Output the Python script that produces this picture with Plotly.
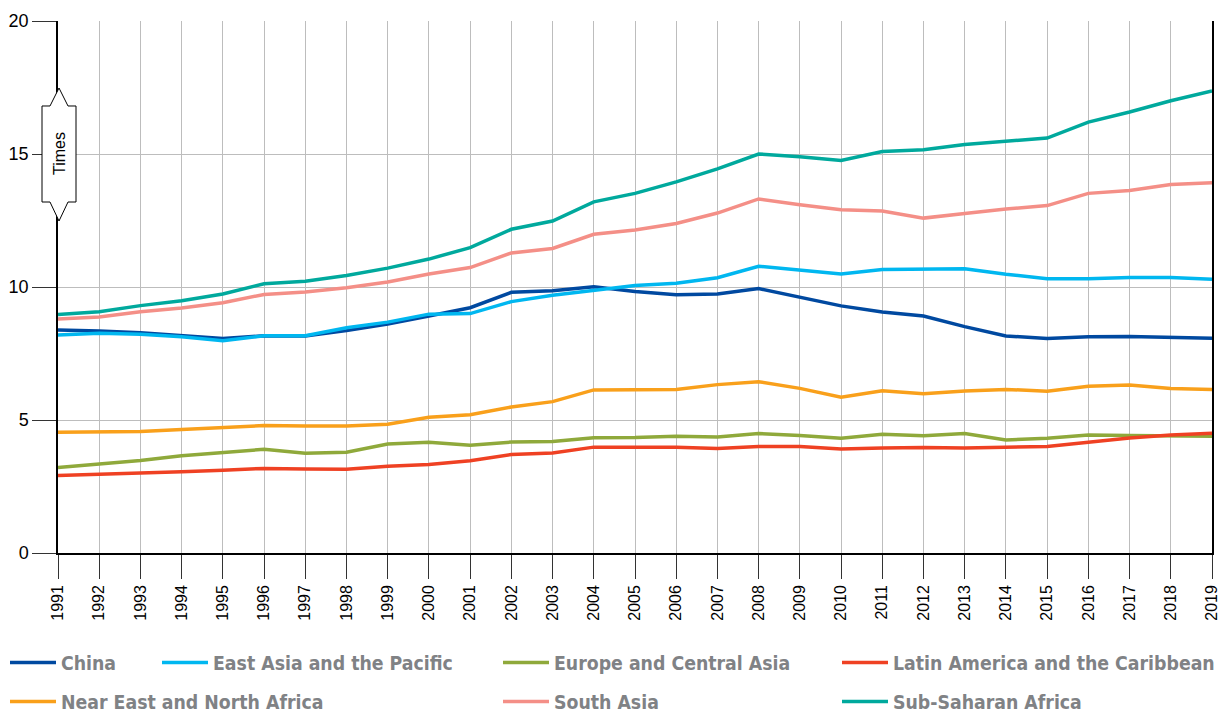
import plotly.graph_objects as go

years = list(range(1991, 2020))
year_labels = [str(y) for y in years]

china = [8.38, 8.35, 8.28, 8.16, 8.06, 8.17, 8.16, 8.36, 8.61, 8.91,
         9.22, 9.80, 9.86, 10.01, 9.83, 9.71, 9.74, 9.94, 9.61, 9.29,
         9.06, 8.91, 8.51, 8.16, 8.06, 8.13, 8.14, 8.12, 8.07]
east_asia = [8.20, 8.26, 8.22, 8.13, 7.98, 8.17, 8.17, 8.47, 8.68, 8.98,
             9.00, 9.45, 9.69, 9.89, 10.06, 10.14, 10.35, 10.78, 10.64, 10.49,
             10.66, 10.66, 10.69, 10.48, 10.31, 10.31, 10.36, 10.36, 10.29]
europe = [3.21, 3.35, 3.48, 3.66, 3.79, 3.90, 3.75, 3.79, 4.10, 4.16,
          4.05, 4.17, 4.19, 4.33, 4.34, 4.39, 4.36, 4.49, 4.42, 4.31,
          4.46, 4.41, 4.49, 4.25, 4.31, 4.44, 4.42, 4.39, 4.39]
latin = [2.91, 2.95, 3.01, 3.05, 3.11, 3.18, 3.16, 3.15, 3.26, 3.33,
         3.47, 3.70, 3.76, 3.98, 3.98, 3.98, 3.93, 4.00, 4.00, 3.91,
         3.95, 3.97, 3.95, 3.96, 4.00, 4.16, 4.32, 4.44, 4.50]
near_east = [4.54, 4.57, 4.57, 4.64, 4.70, 4.79, 4.77, 4.77, 4.84, 5.10,
             5.20, 5.49, 5.69, 6.13, 6.14, 6.15, 6.33, 6.44, 6.19, 5.86,
             6.10, 5.99, 6.09, 6.15, 6.08, 6.27, 6.32, 6.18, 6.15]
south_asia = [8.80, 8.87, 9.07, 9.21, 9.41, 9.72, 9.81, 9.97, 10.19, 10.49,
              10.73, 11.28, 11.45, 11.98, 12.14, 12.39, 12.78, 13.31, 13.09, 12.90,
              12.86, 12.59, 12.76, 12.93, 13.06, 13.52, 13.63, 13.85, 13.92]
ssa = [8.97, 9.07, 9.30, 9.48, 9.74, 10.12, 10.22, 10.43, 10.71, 11.05,
       11.48, 12.17, 12.48, 13.20, 13.52, 13.95, 14.44, 15.00, 14.90, 14.76,
       15.09, 15.16, 15.36, 15.49, 15.60, 16.20, 16.58, 17.00, 17.37]

series_names = ["China", "East Asia and the Pacific", "Europe and Central Asia",
                "Latin America and the Caribbean", "Near East and North Africa",
                "South Asia", "Sub-Saharan Africa"]
series_values = [china, east_asia, europe, latin, near_east, south_asia, ssa]
colors = ["#0049a0", "#00b7f0", "#8fa93b", "#ef4123", "#f9a01b", "#f48f87", "#00a99d"]

W, H = 1221, 713
ML, MR, MT, MB = 58, 9, 21, 160
PW, PH = W - ML - MR, H - MT - MB


def px_x(px):
    return (px - ML) / PW


def px_y(py):
    return (H - MB - py) / PH


# legend placement (pixel positions of each legend box: x start, y of row centre)
legend_pos = [(5, 663), (157, 663), (498, 663), (837, 663),
              (5, 702), (498, 702), (837, 702)]

fig = go.Figure()
for i, (name, vals, col) in enumerate(zip(series_names, series_values, colors)):
    lg = "legend" if i == 0 else f"legend{i+1}"
    fig.add_trace(go.Scatter(x=years, y=vals, mode="lines", name=name,
                             line=dict(color=col, width=3.5),
                             legend=lg))

legend_font = dict(family="Liberation Sans Narrow, DejaVu Sans Condensed, sans-serif",
                   size=19.3, color="#808285", weight="bold")
layout_legends = {}
for i, (lx, ly) in enumerate(legend_pos):
    key = "legend" if i == 0 else f"legend{i+1}"
    layout_legends[key] = dict(x=px_x(lx), y=px_y(ly), xanchor="left", yanchor="middle",
                               xref="paper", yref="paper", orientation="v",
                               bgcolor="rgba(0,0,0,0)", borderwidth=0,
                               font=legend_font, itemwidth=46, itemclick=False)

# "Times" label box
pts = [(42, 106), (50, 106), (59, 88), (68, 106), (76, 106), (76, 202),
       (68, 202), (59, 221), (50, 202), (42, 202)]
path = "M " + " L ".join(f"{px_x(a):.5f},{px_y(b):.5f}" for a, b in pts) + " Z"

fig.update_layout(
    width=W, height=H, autosize=False,
    margin=dict(l=ML, r=MR, t=MT, b=MB, autoexpand=False),
    plot_bgcolor="white", paper_bgcolor="white",
    showlegend=True,
    font=dict(family="Liberation Sans, Arial, sans-serif", color="black"),
    xaxis=dict(range=[1991, 2019], tickmode="array", tickvals=years, ticktext=year_labels,
               tickangle=-90, ticks="outside", ticklen=24, tickwidth=1, tickcolor="#333333",
               showgrid=True, gridcolor="#bdbdbd", gridwidth=1.3,
               showline=True, linecolor="black", linewidth=1.5, zeroline=False,
               tickfont=dict(size=16, color="black")),
    yaxis=dict(range=[0, 20], tickmode="array", tickvals=[0, 5, 10, 15, 20],
               ticks="outside", ticklen=24, tickwidth=1, tickcolor="#333333",
               showgrid=True, gridcolor="#bdbdbd", gridwidth=1.3,
               showline=True, linecolor="black", linewidth=1.5, mirror=True, zeroline=False,
               tickfont=dict(size=18, color="black")),
    shapes=[dict(type="path", path=path, xref="paper", yref="paper",
                 fillcolor="white", line=dict(color="black", width=1), layer="above")],
    annotations=[dict(text="Times", x=px_x(59), y=px_y(154), xref="paper", yref="paper",
                      textangle=-90, showarrow=False, xanchor="center", yanchor="middle",
                      font=dict(size=16, color="black"))],
    **layout_legends,
)

fig.write_html("out.html",
               config={"displayModeBar": False},
               post_script="document.body.style.margin='0';document.body.style.overflow='hidden';")
